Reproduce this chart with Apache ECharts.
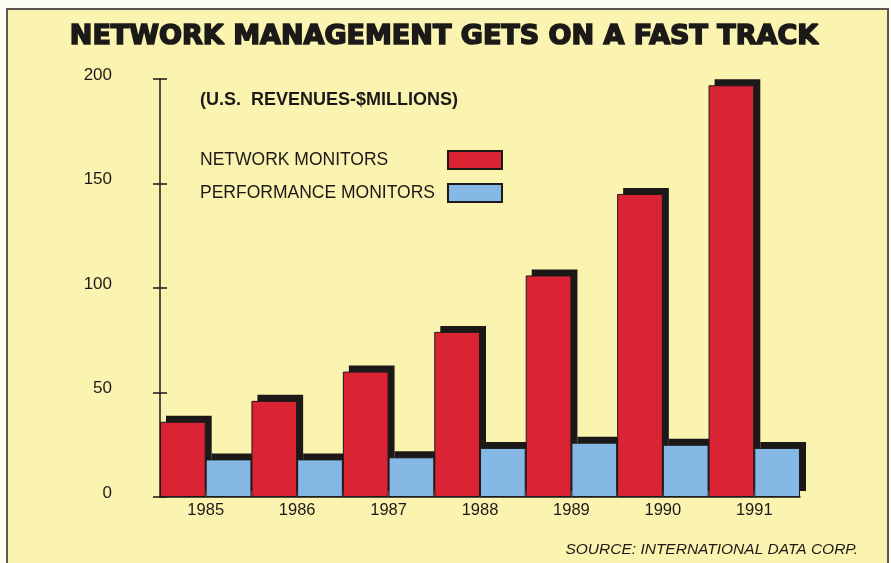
<!DOCTYPE html>
<html>
<head>
<meta charset="utf-8">
<script src="https://cdn.jsdelivr.net/npm/echarts@6/dist/echarts.min.js"></script>
<style>
  html, body { margin: 0; padding: 0; background: #fdfcf4; }
  #chart { width: 891px; height: 563px; }
</style>
</head>
<body>
<div id="chart"></div>
<script>
// U.S. revenues, $ millions
const years = ['1985', '1986', '1987', '1988', '1989', '1990', '1991'];
const networkMonitors = [36, 46, 60, 79, 106, 145, 197];
const performanceMonitors = [18, 18, 19, 23.5, 26, 25, 23.5];
const yTicks = [0, 50, 100, 150, 200];

const RED = '#da2433';
const BLUE = '#86b8e6';
const INK = '#1c1a18';
const PAPER = '#fbf3b0';
const SHADOW = 6;

const chart = echarts.init(document.getElementById('chart'));

// Drop shadow behind each bar: same footprint, nudged right and up
function shadowItem(params, api) {
  const idx = api.value(0);
  const center = api.coord([idx, 0]);
  const half = api.size([1, 0])[0] / 2;
  const children = [];
  [[api.value(1), -half], [api.value(2), 0]].forEach(function (pair) {
    const top = api.coord([idx, pair[0]]);
    children.push({
      type: 'rect',
      shape: {
        x: center[0] + pair[1] + SHADOW,
        y: top[1] - SHADOW,
        width: half,
        height: center[1] - top[1]
      },
      style: { fill: INK }
    });
  });
  return { type: 'group', children: children };
}

const font = 'Liberation Sans, Arial, sans-serif';

chart.setOption({
  animation: false,
  backgroundColor: '#fdfcf4',
  graphic: [
    {
      type: 'rect', z: -10,
      shape: { x: 7, y: 9, width: 881, height: 570 },
      style: { fill: PAPER, stroke: '#5a5750', lineWidth: 2 }
    }
  ],
  title: [
    {
      text: 'NETWORK MANAGEMENT GETS ON A FAST TRACK',
      left: 444, top: 23, textAlign: 'center', padding: 0,
      textStyle: {
        fontFamily: 'DejaVu Sans', fontWeight: 'bold', fontSize: 27, color: INK,
        textBorderColor: INK, textBorderWidth: 1.6
      }
    },
    {
      text: '(U.S.  REVENUES-$MILLIONS)',
      left: 200, top: 91, padding: 0,
      textStyle: { fontFamily: font, fontWeight: 'bold', fontSize: 18, color: INK }
    },
    {
      text: 'SOURCE: INTERNATIONAL DATA CORP.',
      right: 33, top: 542, padding: 0,
      textStyle: { fontFamily: font, fontStyle: 'italic', fontWeight: 'normal', fontSize: 15.5, color: INK }
    }
  ],
  legend: {
    orient: 'vertical',
    left: 200, top: 150,
    padding: 0,
    align: 'right',
    icon: 'rect',
    itemWidth: 54, itemHeight: 18,
    itemGap: 13,
    data: ['NETWORK MONITORS', 'PERFORMANCE MONITORS'],
    formatter: function (name) { return '{t|' + name + '}'; },
    textStyle: {
      rich: {
        t: { fontFamily: font, fontSize: 17.5, color: INK, width: 243, align: 'left' }
      }
    }
  },
  grid: { left: 160, right: 91, top: 79, bottom: 66 },
  xAxis: {
    type: 'category',
    data: years,
    axisLine: { lineStyle: { color: INK, width: 1.5 } },
    axisTick: { show: false },
    axisLabel: { fontFamily: font, fontSize: 16.5, color: INK, margin: 5 }
  },
  yAxis: [
    {
      type: 'value', min: 0, max: 200, interval: 50,
      axisLine: { show: true, lineStyle: { color: INK, width: 1.5 } },
      axisTick: { show: true, length: 7, lineStyle: { color: INK, width: 1.5 } },
      splitLine: { show: false },
      axisLabel: {
        fontFamily: font, fontSize: 17, color: INK, margin: 48,
        verticalAlign: 'bottom', lineHeight: 8,
        formatter: function (v) { return yTicks.indexOf(v) >= 0 ? String(v) : ''; }
      }
    },
    {
      type: 'value', min: 0, max: 200, interval: 50, position: 'left',
      axisLine: { show: false },
      axisTick: { show: true, inside: true, length: 7, lineStyle: { color: INK, width: 1.5 } },
      splitLine: { show: false },
      axisLabel: { show: false }
    }
  ],
  series: [
    {
      type: 'custom',
      z: 1,
      silent: true,
      renderItem: shadowItem,
      data: years.map(function (y, i) { return [i, networkMonitors[i], performanceMonitors[i]]; }),
      encode: { x: 0, y: [1, 2] }
    },
    {
      name: 'NETWORK MONITORS',
      type: 'bar',
      z: 3,
      data: networkMonitors,
      barGap: '0%', barCategoryGap: '0%',
      itemStyle: { color: RED, borderColor: INK, borderWidth: 1 }
    },
    {
      name: 'PERFORMANCE MONITORS',
      type: 'bar',
      z: 3,
      data: performanceMonitors,
      barGap: '0%', barCategoryGap: '0%',
      itemStyle: { color: BLUE, borderColor: INK, borderWidth: 1 }
    }
  ]
});
</script>
</body>
</html>
